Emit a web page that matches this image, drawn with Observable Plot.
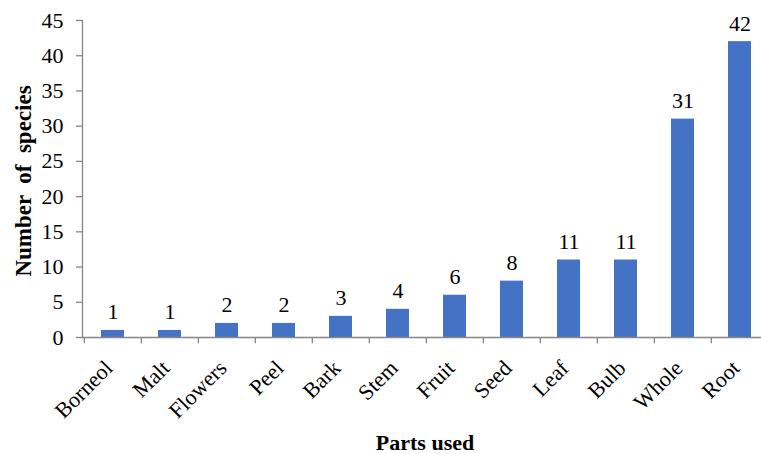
<!DOCTYPE html>
<html>
<head>
<meta charset="utf-8">
<script src="https://cdn.jsdelivr.net/npm/d3@7"></script>
<script src="https://cdn.jsdelivr.net/npm/@observablehq/plot@0.6"></script>
<style>
  html, body { margin: 0; padding: 0; background: #fff; }
  svg { display: block; }
</style>
</head>
<body>
<div id="chart"></div>
<script>
const categories = ["Borneol", "Malt", "Flowers", "Peel", "Bark", "Stem", "Fruit", "Seed", "Leaf", "Bulb", "Whole", "Root"];
const counts = [1, 1, 2, 2, 3, 4, 6, 8, 11, 11, 31, 42];
const yTicks = [0, 5, 10, 15, 20, 25, 30, 35, 40, 45];
const xTitle = "Parts used";
const yTitle = "Number  of  species";

const data = categories.map((c, i) => ({part: c, n: counts[i]}));

const W = 761, H = 454;
const mL = 82, mT = 20, mB = 117;
const xRange = [82, 770];
const step = (xRange[1] - xRange[0]) / categories.length;
const font = "'Liberation Serif', 'Times New Roman', serif";
const axisGray = "#868686";

const chart = Plot.plot({
  width: W,
  height: H,
  marginLeft: mL,
  marginRight: 0,
  marginTop: mT,
  marginBottom: mB,
  style: {fontFamily: font, fontSize: "22px", color: "#000", background: "#fff"},
  x: {domain: categories, range: xRange, paddingInner: 0.6, paddingOuter: 0.3, axis: null},
  y: {domain: [0, 45], axis: null},
  marks: [
    Plot.barY(data, {x: "part", y: "n", fill: "#4472C4"}),
    Plot.frame({anchor: "left", stroke: axisGray, strokeWidth: 1.3}),
    Plot.axisY({ticks: yTicks, tickSize: 6, tickPadding: 13, stroke: axisGray, strokeWidth: 1.3, fill: "#000", fontSize: 22, label: null, tickFormat: d => String(d)}),
    Plot.ruleY([0], {stroke: axisGray, strokeWidth: 1.3}),
    Plot.ruleX(categories, {x: d => d, y1: 0, y2: -0.87, dx: -step / 2, stroke: axisGray, strokeWidth: 1.3}),
    Plot.text(categories, {x: d => d, y: 0, text: d => d, rotate: -45, textAnchor: "end", lineAnchor: "middle", dx: -4, dy: 27, fontSize: 22, fill: "#000"}),
    Plot.text(data, {x: "part", y: "n", text: d => String(d.n), lineAnchor: "bottom", dy: -11, fontSize: 22, fill: "#000"}),
    Plot.text([xTitle], {frameAnchor: "bottom", text: d => d, dx: 3, dy: 112, lineAnchor: "bottom", textAnchor: "middle", fontWeight: "bold", fontSize: 22, fill: "#000"}),
    Plot.text([yTitle], {frameAnchor: "left", text: d => d, rotate: -90, textAnchor: "middle", lineAnchor: "middle", dx: -59, dy: 2, fontWeight: "bold", fontSize: 23, fill: "#000"})
  ]
});
document.getElementById("chart").appendChild(chart);
</script>
</body>
</html>
